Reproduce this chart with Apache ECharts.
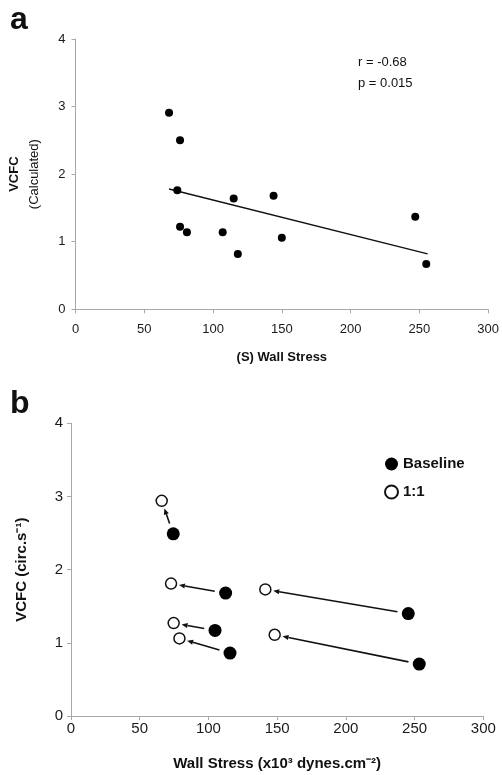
<!DOCTYPE html>
<html>
<head>
<meta charset="utf-8">
<script src="https://cdn.jsdelivr.net/npm/echarts@6/dist/echarts.min.js"></script>
<style>
  html, body { margin: 0; padding: 0; background: #fff; }
  #chart { width: 502px; height: 775px; }
</style>
</head>
<body>
<div id="chart"></div>
<script>
// panel a: VCFC (calculated) vs wall stress
const aStress = [68, 74, 76, 76, 81, 107, 115, 118, 144, 150, 247, 255];
const aVcfc = [2.91, 1.76, 2.50, 1.22, 1.14, 1.14, 1.64, 0.82, 1.68, 1.06, 1.37, 0.67];
// regression line end points
const trendX = [68, 256];
const trendY = [1.78, 0.82];
const statText = ['r = -0.68', 'p = 0.015'];

// panel b: baseline -> 1:1
const baseStress = [74.4, 112.5, 104.8, 115.7, 245.4, 253.4];
const baseVcfc = [2.49, 1.68, 1.17, 0.86, 1.40, 0.71];
const oneStress = [66, 72.8, 74.7, 78.9, 141.4, 148.2];
const oneVcfc = [2.94, 1.81, 1.27, 1.06, 1.73, 1.11];

const xTicks = [0, 50, 100, 150, 200, 250, 300];
const yTicks = [0, 1, 2, 3, 4];

const FONT = '"Liberation Sans", Arial, sans-serif';
const axisGray = '#a8a8a8';

const chart = echarts.init(document.getElementById('chart'));

function xAxisOf(grid, name, fontSize, margin, gap, nameSize) {
  return {
    type: 'value', gridIndex: grid,
    min: xTicks[0], max: xTicks[xTicks.length - 1], interval: xTicks[1] - xTicks[0],
    splitLine: { show: false },
    axisLine: { lineStyle: { color: axisGray, width: 1 } },
    axisTick: { length: 4, lineStyle: { color: axisGray } },
    axisLabel: { fontFamily: FONT, fontSize: fontSize, color: '#1a1a1a', margin: margin },
    name: name, nameLocation: 'middle', nameGap: gap,
    nameTextStyle: { fontFamily: FONT, fontSize: nameSize, fontWeight: 'bold', color: '#111' }
  };
}

function yAxisOf(grid, fontSize, margin) {
  return {
    type: 'value', gridIndex: grid,
    min: yTicks[0], max: yTicks[yTicks.length - 1], interval: yTicks[1] - yTicks[0],
    splitLine: { show: false },
    axisLine: { show: true, lineStyle: { color: axisGray, width: 1 } },
    axisTick: { show: true, length: 4, lineStyle: { color: axisGray } },
    axisLabel: { fontFamily: FONT, fontSize: fontSize, color: '#1a1a1a', margin: margin }
  };
}

const yA = yAxisOf(0, 13, 10);
yA.name = '{b|VCFC}\n{n|(Calculated)}';
yA.nameLocation = 'middle';
yA.nameGap = 31;
yA.nameTextStyle = {
  rich: {
    b: { fontFamily: FONT, fontSize: 13, fontWeight: 'bold', color: '#111', lineHeight: 20 },
    n: { fontFamily: FONT, fontSize: 13, color: '#111', lineHeight: 20 }
  }
};

const yB = yAxisOf(1, 15, 8);
yB.name = 'VCFC (circ.s\u207B\u00B9)';
yB.nameLocation = 'middle';
yB.nameGap = 42;
yB.nameTextStyle = { fontFamily: FONT, fontSize: 15, fontWeight: 'bold', color: '#111', padding: [0, 0, 0, 0] };

function arrowItem(params, api) {
  const p0 = api.coord([api.value(0), api.value(1)]);
  const p1 = api.coord([api.value(2), api.value(3)]);
  const dx = p1[0] - p0[0], dy = p1[1] - p0[1];
  const len = Math.sqrt(dx * dx + dy * dy);
  const ux = dx / len, uy = dy / len;
  const s = [p0[0] + ux * 11, p0[1] + uy * 11];
  const e = [p1[0] - ux * 8, p1[1] - uy * 8];
  const hl = 6, hw = 2.6;
  const bx = e[0] - ux * hl, by = e[1] - uy * hl;
  return {
    type: 'group',
    children: [
      { type: 'line', shape: { x1: s[0], y1: s[1], x2: bx, y2: by },
        style: { stroke: '#111', lineWidth: 1.6 } },
      { type: 'polygon',
        shape: { points: [e, [bx - uy * hw, by + ux * hw], [bx + uy * hw, by - ux * hw]] },
        style: { fill: '#111' } }
    ]
  };
}

const option = {
  backgroundColor: '#fff',
  animation: false,
  grid: [
    { left: 75, top: 39, width: 417.5, height: 270.3 },
    { left: 71, top: 423.3, width: 412.3, height: 292.7 }
  ],
  xAxis: [
    xAxisOf(0, '(S) Wall Stress', 13, 14, 42, 13),
    xAxisOf(1, 'Wall Stress (x10\u00B3 dynes.cm\u207B\u00B2)', 15, 5, 40, 15)
  ],
  yAxis: [yA, yB],
  legend: {
    orient: 'vertical', left: 379, top: 451.5,
    itemWidth: 13, itemHeight: 13, itemGap: 13,
    textStyle: { fontFamily: FONT, fontSize: 15, fontWeight: 'bold', color: '#111' },
    data: [
      { name: 'Baseline', icon: 'circle' },
      { name: '1:1', icon: 'circle' }
    ]
  },
  graphic: [
    { type: 'text', left: 10, top: 4, style: { text: 'a', font: 'bold 32px ' + FONT, fill: '#111' } },
    { type: 'text', left: 10, top: 388, style: { text: 'b', font: 'bold 32px ' + FONT, fill: '#111' } },
    { type: 'text', left: 358, top: 56, style: { text: statText[0], font: '13px ' + FONT, fill: '#111' } },
    { type: 'text', left: 358, top: 77, style: { text: statText[1], font: '13px ' + FONT, fill: '#111' } }
  ],
  series: [
    {
      type: 'line', xAxisIndex: 0, yAxisIndex: 0,
      data: trendX.map((x, i) => [x, trendY[i]]),
      showSymbol: false, lineStyle: { color: '#111', width: 1.5 }, z: 1
    },
    {
      type: 'scatter', xAxisIndex: 0, yAxisIndex: 0,
      data: aStress.map((x, i) => [x, aVcfc[i]]),
      symbolSize: 8, itemStyle: { color: '#000', opacity: 1 }, z: 2
    },
    {
      type: 'custom', xAxisIndex: 1, yAxisIndex: 1,
      data: baseStress.map((x, i) => [x, baseVcfc[i], oneStress[i], oneVcfc[i]]),
      renderItem: arrowItem, z: 1
    },
    {
      name: 'Baseline', type: 'scatter', xAxisIndex: 1, yAxisIndex: 1,
      data: baseStress.map((x, i) => [x, baseVcfc[i]]),
      symbolSize: 13, itemStyle: { color: '#000', opacity: 1 }, z: 2
    },
    {
      name: '1:1', type: 'scatter', xAxisIndex: 1, yAxisIndex: 1,
      data: oneStress.map((x, i) => [x, oneVcfc[i]]),
      symbolSize: 11,
      itemStyle: { color: '#fff', borderColor: '#111', borderWidth: 1.5, opacity: 1 }, z: 2
    }
  ]
};

chart.setOption(option);
</script>
</body>
</html>
